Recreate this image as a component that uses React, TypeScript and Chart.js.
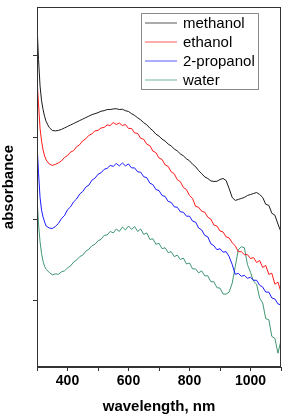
import { useEffect, useRef } from "react";
import { Chart, registerables } from "chart.js";

Chart.register(...registerables);

const wavelengths = [
  300, 305, 310, 315, 320, 325, 330,
  340, 350, 360, 370, 380, 390, 400, 410, 420, 430,
  440, 450, 460, 470, 480, 490, 500, 510, 520, 530,
  540, 550, 560, 570, 580, 590, 600, 610, 620, 630,
  640, 650, 660, 670, 680, 690, 700, 710, 720, 730,
  740, 750, 760, 770, 780, 790, 800, 810, 820, 830,
  840, 850, 860, 870, 880, 890, 900, 910, 920, 930,
  940, 950, 960, 970, 980, 990, 1000, 1010, 1020, 1030,
  1040, 1050, 1060, 1070, 1080, 1090, 1100,
];

const methanol = [
  3.47, 3.12, 2.85, 2.70, 2.61, 2.54, 2.49,
  2.43, 2.40, 2.395, 2.40, 2.41, 2.425, 2.44, 2.455, 2.47, 2.485,
  2.50, 2.515, 2.53, 2.545, 2.56, 2.57, 2.58, 2.595, 2.60, 2.612,
  2.612, 2.618, 2.62, 2.612, 2.615, 2.60, 2.592, 2.57, 2.552, 2.528,
  2.507, 2.478, 2.457, 2.423, 2.397, 2.362, 2.342, 2.312, 2.292, 2.262,
  2.242, 2.212, 2.192, 2.162, 2.142, 2.112, 2.092, 2.057, 2.032, 1.992,
  1.962, 1.928, 1.912, 1.888, 1.882, 1.884, 1.902, 1.913, 1.892, 1.81,
  1.72, 1.69, 1.70, 1.71, 1.72, 1.74, 1.75, 1.76, 1.77, 1.75,
  1.72, 1.65, 1.64, 1.56, 1.54, 1.45, 1.37,
];

const ethanol = [
  2.92, 2.67, 2.42, 2.29, 2.20, 2.14, 2.10,
  2.06, 2.045, 2.055, 2.07, 2.09, 2.125, 2.145, 2.18, 2.195, 2.235,
  2.255, 2.295, 2.315, 2.35, 2.365, 2.395, 2.40, 2.425, 2.43, 2.455,
  2.45, 2.48, 2.46, 2.475, 2.45, 2.46, 2.42, 2.42, 2.375, 2.37,
  2.32, 2.31, 2.26, 2.245, 2.19, 2.175, 2.12, 2.105, 2.05, 2.035,
  1.98, 1.96, 1.90, 1.88, 1.82, 1.80, 1.74, 1.71, 1.63, 1.62,
  1.58, 1.57, 1.52, 1.50, 1.44, 1.43, 1.38, 1.37, 1.32, 1.31,
  1.26, 1.23, 1.17, 1.17, 1.14, 1.14, 1.10, 1.11, 1.06, 1.08,
  1.01, 1.03, 0.94, 0.95, 0.84, 0.86, 0.76,
];

const propanol = [
  2.27, 1.97, 1.72, 1.59, 1.52, 1.47, 1.43,
  1.41, 1.405, 1.425, 1.455, 1.505, 1.535, 1.595, 1.625, 1.675, 1.705,
  1.755, 1.78, 1.825, 1.845, 1.895, 1.915, 1.955, 1.97, 2.005, 2.015,
  2.045, 2.035, 2.065, 2.04, 2.07, 2.04, 2.06, 2.02, 2.02, 1.98,
  1.975, 1.93, 1.92, 1.865, 1.85, 1.80, 1.79, 1.74, 1.73, 1.68,
  1.67, 1.625, 1.62, 1.575, 1.57, 1.53, 1.53, 1.48, 1.47, 1.41,
  1.39, 1.335, 1.32, 1.25, 1.23, 1.19, 1.20, 1.165, 1.17, 1.12,
  1.04, 0.94, 0.95, 0.92, 0.93, 0.90, 0.91, 0.88, 0.88, 0.83,
  0.81, 0.76, 0.76, 0.70, 0.69, 0.64, 0.63,
];

const water = [
  1.72, 1.45, 1.27, 1.15, 1.07, 1.02, 0.99,
  0.96, 0.935, 0.945, 0.94, 0.965, 0.975, 1.005, 1.025, 1.065, 1.085,
  1.12, 1.135, 1.175, 1.195, 1.23, 1.245, 1.28, 1.295, 1.335, 1.34,
  1.375, 1.36, 1.40, 1.375, 1.42, 1.39, 1.43, 1.395, 1.425, 1.375,
  1.40, 1.345, 1.36, 1.295, 1.30, 1.245, 1.255, 1.20, 1.21, 1.16,
  1.17, 1.12, 1.135, 1.09, 1.105, 1.045, 1.055, 0.995, 0.995, 0.955,
  0.975, 0.925, 0.925, 0.865, 0.865, 0.805, 0.80, 0.74, 0.74, 0.76,
  0.85, 1.02, 1.19, 1.22, 1.21, 1.04, 0.96, 0.87, 0.84, 0.70,
  0.65, 0.49, 0.48, 0.31, 0.29, 0.14, 0.27,
];

const seriesNames = ["methanol", "ethanol", "2-propanol", "water"];
const seriesColors = ["#000000", "#ff0000", "#0000ff", "#2a8a62"];
const xTicks = [300, 400, 500, 600, 700, 800, 900, 1000, 1100];
const xLabels = [400, 600, 800, 1000];
const yTicks = [0.67, 1.5, 2.33, 3.16];

const FONT = "'Liberation Sans', Arial, sans-serif";

export default function App() {
  const ref = useRef<HTMLCanvasElement>(null);

  useEffect(() => {
    document.body.style.margin = "0";
    const values = [methanol, ethanol, propanol, water];

    const framePlugin = {
      id: "frameAndLegend",
      afterDraw(chart: any) {
        const { ctx, chartArea } = chart;
        ctx.save();
        ctx.strokeStyle = "#333333";
        ctx.lineWidth = 1;
        ctx.strokeRect(
          Math.round(chartArea.left) + 0.5,
          Math.round(chartArea.top) + 0.5,
          Math.round(chartArea.right - chartArea.left) - 1,
          Math.round(chartArea.bottom - chartArea.top) - 1
        );
        // legend box
        const bx = 141, by = 13, bw = 117, bh = 76;
        ctx.fillStyle = "#ffffff";
        ctx.fillRect(bx, by, bw, bh);
        ctx.strokeStyle = "#8a8a8a";
        ctx.strokeRect(bx + 0.5, by + 0.5, bw, bh);
        ctx.font = `15px ${FONT}`;
        ctx.textBaseline = "middle";
        chart.data.datasets.forEach((ds: any, i: number) => {
          const yy = by + 10 + i * 19;
          ctx.strokeStyle = ds.borderColor;
          ctx.globalAlpha = 0.55;
          ctx.lineWidth = 1.2;
          ctx.beginPath();
          ctx.moveTo(145, yy);
          ctx.lineTo(177, yy);
          ctx.stroke();
          ctx.globalAlpha = 1;
          ctx.fillStyle = "#000000";
          ctx.fillText(ds.label, 183, yy + 1);
        });
        ctx.restore();
      },
    };

    const chart = new Chart(ref.current as HTMLCanvasElement, {
      type: "line",
      data: {
        datasets: values.map((v, i) => ({
          label: seriesNames[i],
          data: wavelengths.map((w, j) => ({ x: w, y: v[j] })),
          borderColor: seriesColors[i],
          backgroundColor: seriesColors[i],
          borderWidth: 0.9,
          pointRadius: 0,
          tension: 0,
          fill: false,
        })),
      },
      options: {
        responsive: false,
        animation: false,
        layout: { padding: { top: 2, right: 2, left: 0, bottom: 0 } },
        plugins: { legend: { display: false }, tooltip: { enabled: false } },
        scales: {
          x: {
            type: "linear",
            min: 300,
            max: 1100,
            afterBuildTicks: (s: any) => {
              s.ticks = xTicks.map((v) => ({ value: v }));
            },
            ticks: {
              autoSkip: false,
              maxRotation: 0,
              padding: 2,
              color: "#000000",
              font: { family: FONT, size: 14, weight: "bold" },
              callback: (v: any) => (xLabels.includes(Number(v)) ? String(v) : ""),
            },
            grid: { drawOnChartArea: false, drawTicks: true, tickLength: 4, color: "#333333" },
            border: { display: true, color: "#333333", width: 1 },
            title: {
              display: true,
              text: "wavelength, nm",
              color: "#000000",
              font: { family: FONT, size: 15, weight: "bold" },
              padding: { top: 0, bottom: 0 },
            },
            afterFit: (s: any) => {
              s.height = 49;
            },
          },
          y: {
            type: "linear",
            min: 0,
            max: 3.65,
            afterBuildTicks: (s: any) => {
              s.ticks = yTicks.map((v) => ({ value: v }));
            },
            ticks: { callback: () => "", padding: 0 },
            grid: { drawOnChartArea: false, drawTicks: true, tickLength: 4, color: "#333333" },
            border: { display: true, color: "#333333", width: 1 },
            title: {
              display: true,
              text: "absorbance",
              color: "#000000",
              font: { family: FONT, size: 15, weight: "bold" },
              padding: { top: 0, bottom: 0 },
            },
            afterFit: (s: any) => {
              s.width = 37;
            },
          },
        },
      },
      plugins: [framePlugin],
    } as any);

    return () => chart.destroy();
  }, []);

  return (
    <div style={{ position: "absolute", left: 0, top: 0, width: 283, height: 416 }}>
      <canvas ref={ref} width={283} height={416} style={{ width: 283, height: 416, display: "block" }} />
    </div>
  );
}
